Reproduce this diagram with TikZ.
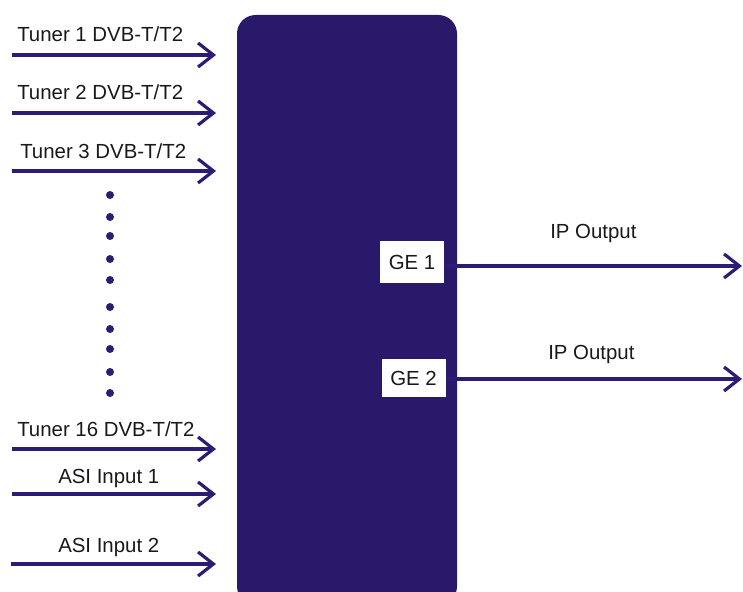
\documentclass[tikz,border=0pt]{standalone}
\usepackage{fontspec}
\setmainfont{Liberation Sans}
\usetikzlibrary{arrows.meta}
\definecolor{boxpurple}{HTML}{2A186B}
\definecolor{linepurple}{HTML}{2E1C74}
\tikzset{
  sig/.style={draw=linepurple, line width=2.5pt, -{Straight Barb[length=11.5pt, width=18pt, line width=2.4pt]}},
  lbl/.style={font=\fontsize{15.3pt}{17pt}\selectfont, inner sep=0pt, text=black!90},
  port/.style={fill=white, draw=none, minimum width=48pt, inner sep=0pt, font=\fontsize{15.3pt}{17pt}\selectfont, text=black!90},
  dotmark/.style={circle, fill=linepurple, inner sep=0pt, minimum size=6pt},
}
\begin{document}
\begin{tikzpicture}[x=0.75pt, y=-0.75pt]
\useasboundingbox (0,0) rectangle (743,592);
% main block
\fill[boxpurple, rounded corners=14pt] (237,15) rectangle (457,605);
\node[inner sep=0pt, minimum size=0pt] (blk) at (347,300) {};
% ports
\node[port, minimum height=31pt] (ge1) at (412,262) {GE 1};
\node[port, minimum height=28pt] (ge2) at (413.5,378) {GE 2};
% input line end points
\coordinate (s1) at (12,55);   \coordinate (e1) at (216,55);
\coordinate (s2) at (12,113);  \coordinate (e2) at (216,113);
\coordinate (s3) at (12,171);  \coordinate (e3) at (216,171);
\coordinate (s16) at (12,449); \coordinate (e16) at (216,449);
\coordinate (sa1) at (12,494); \coordinate (ea1) at (216,494);
\coordinate (sa2) at (11,564); \coordinate (ea2) at (216,564);
\coordinate (o1) at (742,266);
\coordinate (o2) at (742,379);
% input arrows
\draw[sig] (s1) -- (e1);
\draw[sig] (s2) -- (e2);
\draw[sig] (s3) -- (e3);
\draw[sig] (s16) -- (e16);
\draw[sig] (sa1) -- (ea1);
\draw[sig] (sa2) -- (ea2);
% output arrows
\draw[sig] (ge1.east |- o1) -- (o1);
\draw[sig] (ge2.east |- o2) -- (o2);
% labels
\node[lbl, anchor=base west] (t1) at (17,42) {Tuner 1 DVB-T/T2};
\node[lbl, anchor=base west] (t2) at (17,100) {Tuner 2 DVB-T/T2};
\node[lbl, anchor=base west] (t3) at (20,158) {Tuner 3 DVB-T/T2};
\node[lbl, anchor=base west] (t16) at (17,436) {Tuner 16 DVB-T/T2};
\node[lbl, anchor=base west] (a1) at (58,483) {ASI Input 1};
\node[lbl, anchor=base west] (a2) at (58,552) {ASI Input 2};
\node[lbl, anchor=base west] (ip1) at (550,238) {IP Output};
\node[lbl, anchor=base west] (ip2) at (548,359) {IP Output};
% dots
\foreach \yy/\nm in {195/d1,217/d2,236/d3,259/d4,280/d5,307/d6,329/d7,349/d8,372/d9,393/d10}
  \node[dotmark] (\nm) at (110,\yy) {};
\end{tikzpicture}
\end{document}
